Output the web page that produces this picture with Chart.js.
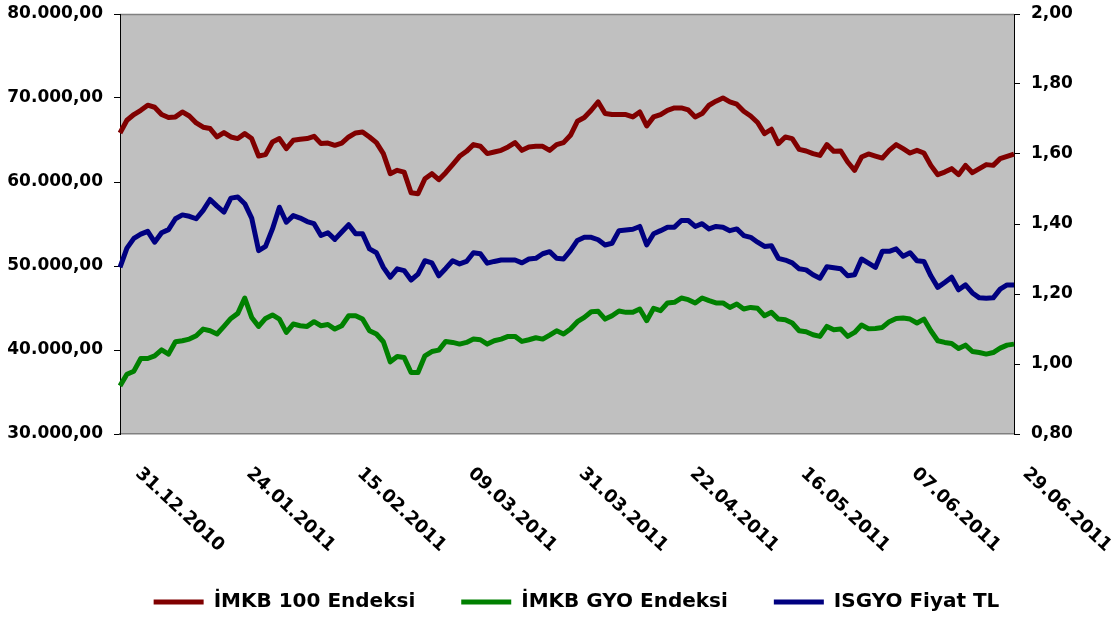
<!DOCTYPE html>
<html lang="tr">
<head>
  <meta charset="UTF-8" />
  <title>İMKB 100, İMKB GYO ve ISGYO</title>
  <script src="https://cdn.jsdelivr.net/npm/chart.js"></script>
  <style>
    html, body { margin: 0; padding: 0; background: #fff; }
    .chart-box { position: relative; width: 1113px; height: 618px; }
  </style>
</head>
<body>
  <div class="chart-box"><canvas id="chart"></canvas></div>
  <script>
    // trading days, 31.12.2010 - 30.06.2011
    const dates = [
      '31.12.2010',
      '03.01.2011', '04.01.2011', '05.01.2011', '06.01.2011', '07.01.2011', '10.01.2011', '11.01.2011',
      '12.01.2011', '13.01.2011', '14.01.2011', '17.01.2011', '18.01.2011', '19.01.2011', '20.01.2011',
      '21.01.2011', '24.01.2011', '25.01.2011', '26.01.2011', '27.01.2011', '28.01.2011', '31.01.2011',
      '01.02.2011', '02.02.2011', '03.02.2011', '04.02.2011', '07.02.2011', '08.02.2011', '09.02.2011',
      '10.02.2011', '11.02.2011', '14.02.2011', '15.02.2011', '16.02.2011', '17.02.2011', '18.02.2011',
      '21.02.2011', '22.02.2011', '23.02.2011', '24.02.2011', '25.02.2011', '28.02.2011',
      '01.03.2011', '02.03.2011', '03.03.2011', '04.03.2011', '07.03.2011', '08.03.2011', '09.03.2011',
      '10.03.2011', '11.03.2011', '14.03.2011', '15.03.2011', '16.03.2011', '17.03.2011', '18.03.2011',
      '21.03.2011', '22.03.2011', '23.03.2011', '24.03.2011', '25.03.2011', '28.03.2011', '29.03.2011',
      '30.03.2011', '31.03.2011',
      '01.04.2011', '04.04.2011', '05.04.2011', '06.04.2011', '07.04.2011', '08.04.2011', '11.04.2011',
      '12.04.2011', '13.04.2011', '14.04.2011', '15.04.2011', '18.04.2011', '19.04.2011', '20.04.2011',
      '21.04.2011', '22.04.2011', '25.04.2011', '26.04.2011', '27.04.2011', '28.04.2011', '29.04.2011',
      '02.05.2011', '03.05.2011', '04.05.2011', '05.05.2011', '06.05.2011', '09.05.2011', '10.05.2011',
      '11.05.2011', '12.05.2011', '13.05.2011', '16.05.2011', '17.05.2011', '18.05.2011', '19.05.2011',
      '20.05.2011', '23.05.2011', '24.05.2011', '25.05.2011', '26.05.2011', '27.05.2011', '30.05.2011',
      '31.05.2011',
      '01.06.2011', '02.06.2011', '03.06.2011', '06.06.2011', '07.06.2011', '08.06.2011', '09.06.2011',
      '10.06.2011', '13.06.2011', '14.06.2011', '15.06.2011', '16.06.2011', '17.06.2011', '20.06.2011',
      '21.06.2011', '22.06.2011', '23.06.2011', '24.06.2011', '27.06.2011', '28.06.2011', '29.06.2011',
      '30.06.2011'
    ];

    // dates written under the axis
    const shownDates = ['31.12.2010', '24.01.2011', '15.02.2011', '09.03.2011', '31.03.2011',
                        '22.04.2011', '16.05.2011', '07.06.2011', '29.06.2011'];

    const imkb100 = [
      65840, 67350, 68030, 68540, 69140, 68900, 68030, 67670, 67750, 68340,
      67860, 67030, 66520, 66360, 65360, 65880, 65360, 65170, 65760, 65170,
      63090, 63260, 64760, 65170, 63970, 64960, 65080, 65170, 65440, 64570,
      64640, 64370, 64640, 65360, 65840, 65960, 65360, 64690, 63380, 60990,
      61390, 61180, 58720, 58600, 60390, 60990, 60270, 61110, 62070, 63060,
      63650, 64450, 64250, 63380, 63570, 63770, 64170, 64690, 63770, 64170,
      64250, 64250, 63770, 64450, 64690, 65560, 67230, 67670, 68540, 69530,
      68150, 68030, 68030, 68030, 67750, 68340, 66680, 67750, 68030, 68540,
      68820, 68820, 68580, 67750, 68150, 69140, 69620, 70010, 69530, 69260,
      68430, 67860, 67080, 65760, 66280, 64570, 65360, 65170, 63890, 63690,
      63380, 63170, 64450, 63650, 63690, 62380, 61390, 62970, 63340, 63090,
      62850, 63770, 64450, 63970, 63450, 63770, 63450, 61980, 60870, 61180,
      61590, 60870, 61980, 61110, 61590, 62070, 61980, 62780, 63060, 63330
    ];

    const imkbGyo = [
      35730, 37120, 37480, 38990, 38990, 39310, 40020, 39510, 40980, 41100,
      41300, 41700, 42490, 42290, 41900, 42810, 43760, 44360, 46190, 43880,
      42810, 43760, 44170, 43680, 42090, 43090, 42890, 42810, 43370, 42890,
      43040, 42490, 42890, 44080, 44080, 43680, 42290, 41900, 40980, 38590,
      39230, 39110, 37320, 37320, 39310, 39820, 39990, 41020, 40900, 40700,
      40900, 41300, 41220, 40700, 41100, 41300, 41620, 41620, 41020, 41220,
      41460, 41300, 41780, 42290, 41900, 42490, 43370, 43880, 44560, 44600,
      43680, 44080, 44640, 44480, 44480, 44880, 43490, 44960, 44680, 45600,
      45680, 46190, 45990, 45600, 46190, 45870, 45600, 45600, 45070, 45480,
      44880, 45070, 44960, 44080, 44480, 43680, 43600, 43210, 42290, 42170,
      41820, 41620, 42810, 42410, 42490, 41620, 42090, 42970, 42530, 42570,
      42690, 43370, 43760, 43800, 43680, 43210, 43680, 42290, 41100, 40900,
      40780, 40180, 40580, 39820, 39700, 39510, 39700, 40220, 40580, 40700
    ];

    const isgyo = [
      1.276, 1.331, 1.359, 1.371, 1.379, 1.348, 1.375, 1.384, 1.415, 1.426,
      1.422, 1.415, 1.439, 1.470, 1.451, 1.434, 1.474, 1.477, 1.458, 1.417,
      1.324, 1.336, 1.386, 1.448, 1.405, 1.424, 1.417, 1.407, 1.401, 1.367,
      1.375, 1.356, 1.377, 1.398, 1.372, 1.372, 1.329, 1.318, 1.276, 1.248,
      1.272, 1.267, 1.240, 1.257, 1.295, 1.289, 1.252, 1.273, 1.295, 1.286,
      1.293, 1.318, 1.315, 1.288, 1.293, 1.297, 1.297, 1.297, 1.289, 1.300,
      1.302, 1.315, 1.321, 1.302, 1.300, 1.324, 1.353, 1.362, 1.362, 1.355,
      1.340, 1.345, 1.381, 1.383, 1.385, 1.393, 1.340, 1.372, 1.381, 1.391,
      1.391, 1.410, 1.410, 1.393, 1.401, 1.386, 1.393, 1.391, 1.381, 1.386,
      1.367, 1.362, 1.348, 1.336, 1.338, 1.302, 1.297, 1.289, 1.272, 1.269,
      1.255, 1.245, 1.278, 1.275, 1.272, 1.252, 1.255, 1.300, 1.288, 1.276,
      1.322, 1.322, 1.329, 1.308, 1.318, 1.295, 1.293, 1.252, 1.219, 1.233,
      1.248, 1.212, 1.226, 1.203, 1.189, 1.188, 1.189, 1.214, 1.226, 1.226
    ];

    const leftTicks = [30000, 40000, 50000, 60000, 70000, 80000];
    const rightTicks = [0.8, 1.0, 1.2, 1.4, 1.6, 1.8, 2.0];

    const FONT = 'DejaVu Sans';

    // 80000 -> "80.000,00"
    function fmtLeft(v) {
      return Math.round(v).toString().replace(/\B(?=(\d{3})+(?!\d))/g, '.') + ',00';
    }
    function fmtRight(v) {
      return v.toFixed(2).replace('.', ',');
    }

    // grey plot area with a thin frame
    const plotFrame = {
      id: 'plotFrame',
      beforeDraw(chart) {
        const { ctx, chartArea: a } = chart;
        ctx.save();
        ctx.fillStyle = '#C0C0C0';
        ctx.fillRect(a.left, a.top, a.right - a.left, a.bottom - a.top);
        ctx.strokeStyle = '#808080';
        ctx.lineWidth = 1.5;
        ctx.beginPath();
        ctx.moveTo(a.left, a.top + 0.5);
        ctx.lineTo(a.right, a.top + 0.5);
        ctx.stroke();
        ctx.restore();
      }
    };

    // slanted date labels (text runs down to the right)
    const slantedDates = {
      id: 'slantedDates',
      afterDraw(chart) {
        const { ctx } = chart;
        const xs = chart.scales.x;
        ctx.save();
        ctx.font = 'bold 18px "' + FONT + '"';
        ctx.fillStyle = '#000';
        ctx.textAlign = 'left';
        ctx.textBaseline = 'middle';
        shownDates.forEach(d => {
          const x = xs.getPixelForValue(dates.indexOf(d));
          ctx.save();
          ctx.translate(x + 18, xs.top + 37);
          ctx.rotate(43 * Math.PI / 180);
          ctx.fillText(d, 0, 0);
          ctx.restore();
        });
        ctx.restore();
      }
    };

    // nudge the legend row a little right and down
    const legendNudge = {
      id: 'legendNudge',
      afterLayout(chart) {
        const l = chart.legend;
        l.left += 20; l.right += 20;
        l.top += 4; l.bottom += 4;
      }
    };

    // y axes: no extra room for half tick labels above/below the plot
    function noEdgePadding(s, width) {
      s.width = width;
      s.paddingTop = 0;
      s.paddingBottom = 0;
    }

    const tickFont = { family: FONT, size: 17, weight: 'bold' };

    new Chart(document.getElementById('chart'), {
      type: 'line',
      data: {
        labels: dates,
        datasets: [
          {
            label: 'İMKB 100 Endeksi',
            data: imkb100,
            yAxisID: 'y',
            borderColor: '#800000',
            backgroundColor: '#800000',
            borderWidth: 5
          },
          {
            label: 'İMKB GYO Endeksi',
            data: imkbGyo,
            yAxisID: 'y',
            borderColor: '#008000',
            backgroundColor: '#008000',
            borderWidth: 5
          },
          {
            label: 'ISGYO Fiyat TL',
            data: isgyo,
            yAxisID: 'y1',
            borderColor: '#000080',
            backgroundColor: '#000080',
            borderWidth: 5
          }
        ]
      },
      options: {
        responsive: true,
        maintainAspectRatio: false,
        animation: false,
        layout: { padding: { top: 14, left: 0, right: 0, bottom: 0 } },
        elements: {
          line: { tension: 0, fill: false, borderJoinStyle: 'round' },
          point: { radius: 0, hoverRadius: 0 }
        },
        scales: {
          x: {
            type: 'category',
            offset: false,
            grid: { display: false },
            border: { color: '#808080', width: 1.5 },
            ticks: { display: false },
            afterFit: s => { s.height = 108; }
          },
          y: {
            position: 'left',
            min: leftTicks[0],
            max: leftTicks[leftTicks.length - 1],
            afterBuildTicks: s => { s.ticks = leftTicks.map(v => ({ value: v })); },
            afterFit: s => noEdgePadding(s, 120),
            grid: { drawOnChartArea: false, tickLength: 6, tickColor: '#000' },
            border: { color: '#000', width: 1 },
            ticks: { color: '#000', font: tickFont, padding: 11, callback: v => fmtLeft(v) }
          },
          y1: {
            position: 'right',
            min: rightTicks[0],
            max: rightTicks[rightTicks.length - 1],
            afterBuildTicks: s => { s.ticks = rightTicks.map(v => ({ value: v })); },
            afterFit: s => noEdgePadding(s, 99),
            grid: { drawOnChartArea: false, tickLength: 6, tickColor: '#000' },
            border: { color: '#000', width: 1 },
            ticks: { color: '#000', font: tickFont, padding: 11, callback: v => fmtRight(v) }
          }
        },
        plugins: {
          legend: {
            position: 'bottom',
            labels: {
              usePointStyle: true,
              pointStyle: 'line',
              pointStyleWidth: 50,
              padding: 46,
              color: '#000',
              font: { family: FONT, size: 20, weight: 'bold' }
            }
          },
          tooltip: { enabled: false }
        }
      },
      plugins: [plotFrame, slantedDates, legendNudge]
    });
  </script>
</body>
</html>
